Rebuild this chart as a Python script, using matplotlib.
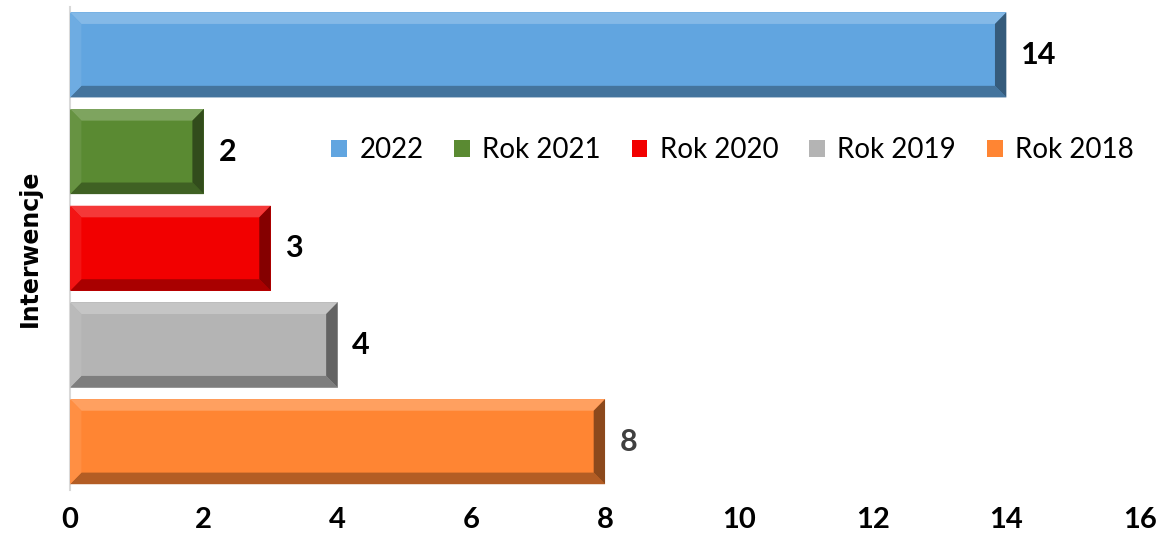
import matplotlib
matplotlib.use('Agg')
import matplotlib.pyplot as plt
import matplotlib.colors as mcolors
from matplotlib.patches import Polygon

# data (bottom -> top)
labels = ['Rok 2018', 'Rok 2019', 'Rok 2020', 'Rok 2021', '2022']
values = [8, 4, 3, 2, 14]
colors = ['#FF8533', '#B4B4B4', '#F20000', '#5A8A32', '#61A5E0']
label_colors = ['#404040', 'black', 'black', 'black', 'black']

plt.rcParams['font.family'] = ['Lato', 'DejaVu Sans']


def shade(c, f):
  r, g, b = mcolors.to_rgb(c)
  if f > 0:
    return (r + (1 - r) * f, g + (1 - g) * f, b + (1 - b) * f)
  return (r * (1 + f), g * (1 + f), b * (1 + f))


def bevel(ax, x1, y0, y1, c, bx=0.17, by=0.12):
  # trapezoids round the bar edges, in data units
  x0 = 0
  top = [(x0, y1), (x1, y1), (x1 - bx, y1 - by), (x0 + bx, y1 - by)]
  bot = [(x0, y0), (x1, y0), (x1 - bx, y0 + by), (x0 + bx, y0 + by)]
  right = [(x1, y0), (x1, y1), (x1 - bx, y1 - by), (x1 - bx, y0 + by)]
  left = [(x0, y0), (x0, y1), (x0 + bx, y1 - by), (x0 + bx, y0 + by)]
  for pts, f in [(top, 0.22), (bot, -0.3), (right, -0.45), (left, 0.08)]:
    ax.add_patch(Polygon(pts, closed=True, facecolor=shade(c, f), edgecolor='none', zorder=3))


fig = plt.figure(figsize=(11.61, 5.36), dpi=100)
ax = fig.add_axes([0.0603, 0.0858, 0.9217, 0.902])

h = 0.88
for i in range(len(values)):
  ax.barh(i, values[i], height=h, color=colors[i], label=labels[i], zorder=2)
  bevel(ax, values[i], i - h / 2, i + h / 2, colors[i])
  ax.text(values[i] + 0.22, i, str(values[i]), va='center', ha='left',
          fontsize=22, fontweight='bold', color=label_colors[i])

ax.set_xlim(0, 16)
ax.set_ylim(-0.5, 4.5)
ax.set_xticks(range(0, 17, 2))
ax.set_yticks([])
ax.tick_params(axis='x', length=0, labelsize=21, pad=12)
for t in ax.get_xticklabels():
  t.set_fontweight('bold')

for s in ['top', 'right', 'bottom']:
  ax.spines[s].set_visible(False)
ax.spines['left'].set_color('#D9D9D9')
ax.spines['left'].set_linewidth(1.5)

ax.set_ylabel('Interwencje', fontsize=17, fontweight='bold', labelpad=20,
              family=['DejaVu Sans'])

handles, lbls = ax.get_legend_handles_labels()
ax.legend(handles[::-1], lbls[::-1], loc='center', bbox_to_anchor=(0.619, 0.703),
          ncol=5, frameon=False, fontsize=20, handlelength=0.57, handleheight=0.57,
          handletextpad=0.45, columnspacing=1.1)

fig.savefig('out.png', dpi=100)
